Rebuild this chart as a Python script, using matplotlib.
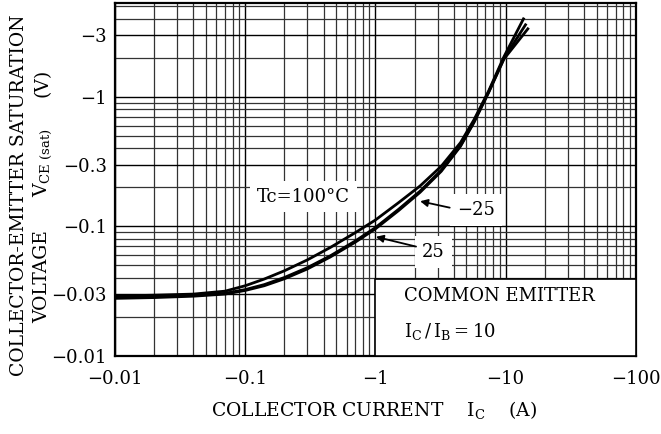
import numpy as np
import matplotlib.pyplot as plt
from matplotlib.patches import Rectangle
from matplotlib.ticker import FixedLocator, NullFormatter

plt.rcParams['font.family'] = ['DejaVu Serif']

# collector current (A, magnitude) and VCE(sat) (V, magnitude)
ic = [0.01, 0.02, 0.04, 0.07, 0.1, 0.14, 0.2, 0.3, 0.45, 0.7, 1.0, 1.5, 2.2, 3.2, 4.5, 5.7, 7.4, 9.7]
vce_100 = [0.0290, 0.0294, 0.0300, 0.0316, 0.0348, 0.0392, 0.0454, 0.0551, 0.0687, 0.0894, 0.112, 0.152, 0.205, 0.291, 0.443, 0.663, 1.11, 2.04]
vce_m25 = [0.0282, 0.0286, 0.0293, 0.0304, 0.0325, 0.0355, 0.0403, 0.0480, 0.0592, 0.0771, 0.0978, 0.135, 0.187, 0.271, 0.421, 0.640, 1.09, 1.98]
vce_25 = [0.0278, 0.0282, 0.0289, 0.0300, 0.0320, 0.0348, 0.0394, 0.0469, 0.0580, 0.0755, 0.0957, 0.132, 0.183, 0.266, 0.415, 0.632, 1.08, 1.96]
# end points of the curves (they split at the top)
end_ic = [13.7, 14.2, 14.8]
end_vce = [4.0, 3.6, 3.35]

xticks = [0.01, 0.1, 1, 10, 100]
xlabels = ['\u22120.01', '\u22120.1', '\u22121', '\u221210', '\u2212100']
yticks = [0.01, 0.03, 0.1, 0.3, 1, 3]
ylabels = ['\u22120.01', '\u22120.03', '\u22120.1', '\u22120.3', '\u22121', '\u22123']

fig = plt.figure(figsize=(6.61, 4.34), dpi=100)
ax = fig.add_axes([0.174, 0.180, 0.788, 0.813])
ax.set_xscale('log')
ax.set_yscale('log')
ax.set_xlim(0.01, 100)
ax.set_ylim(0.01, 5.3)

ax.xaxis.set_major_locator(FixedLocator(xticks))
ax.set_xticklabels(xlabels)
ax.yaxis.set_major_locator(FixedLocator(yticks))
ax.set_yticklabels(ylabels)
minors = [m * 10.0 ** e for e in range(-2, 2) for m in range(2, 10)]
ax.xaxis.set_minor_locator(FixedLocator(minors))
ax.yaxis.set_minor_locator(FixedLocator(minors))
ax.xaxis.set_minor_formatter(NullFormatter())
ax.yaxis.set_minor_formatter(NullFormatter())
ax.tick_params(which='both', length=0, labelsize=13)
ax.tick_params(axis='x', pad=10)
ax.tick_params(axis='y', pad=6)
ax.grid(which='major', color='black', lw=1.0)
ax.grid(which='minor', color='0.2', lw=0.9)
for s in ax.spines.values():
    s.set_linewidth(1.6)

for ys, xe, ye in zip([vce_100, vce_m25, vce_25], end_ic, end_vce):
    ax.plot(ic + [xe], ys + [ye], color='black', lw=2.0, zorder=4)

ax.add_patch(Rectangle((1, 0.01), 99, 0.029, facecolor='white',
                       edgecolor='black', lw=1.2, zorder=3))
ax.text(1.67, 0.029, 'COMMON EMITTER', fontsize=13, va='center', zorder=5)
ax.text(1.67, 0.0155, '$\\mathregular{I_C\\,/\\,I_B=10}$', fontsize=13,
        va='center', zorder=5)

box = dict(facecolor='white', edgecolor='none', pad=5)
ax.text(0.28, 0.17, 'Tc=100\u00b0C', fontsize=13, ha='center', va='center',
        bbox=box, zorder=3)
ax.text(5.9, 0.133, '\u221225', fontsize=13, ha='center', va='center',
        bbox=box, zorder=3)
ax.text(2.79, 0.063, '25', fontsize=13, ha='center', va='center',
        bbox=box, zorder=3)
arrow = dict(arrowstyle='-|>', color='black', lw=1.3, mutation_scale=11)
ax.annotate('', xy=(2.1, 0.158), xytext=(3.9, 0.138), arrowprops=arrow, zorder=5)
ax.annotate('', xy=(0.96, 0.084), xytext=(2.15, 0.069), arrowprops=arrow, zorder=5)

fig.text(0.566, 0.055, 'COLLECTOR CURRENT    $\\mathregular{I_C}$    (A)',
         fontsize=13.5, ha='center', va='center')
fig.text(0.029, 0.55, 'COLLECTOR-EMITTER SATURATION', fontsize=13.5,
         rotation=90, ha='center', va='center')
fig.text(0.064, 0.362, 'VOLTAGE', fontsize=13.5, rotation=90, ha='center', va='center')
fig.text(0.064, 0.625, '$\\mathregular{V_{CE\\ (sat)}}$', fontsize=13.5, rotation=90,
         ha='center', va='center')
fig.text(0.064, 0.81, '(V)', fontsize=13.5, rotation=90, ha='center', va='center')

fig.savefig('out.png', dpi=100)
